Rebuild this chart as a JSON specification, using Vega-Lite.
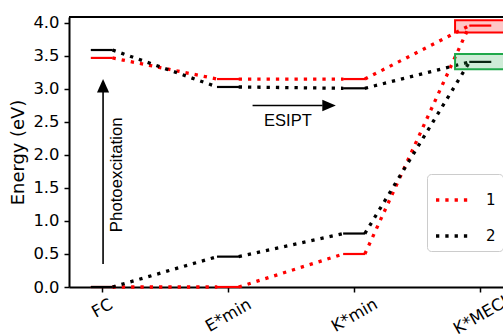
{
  "$schema": "https://vega.github.io/schema/vega-lite/v6.json",
  "width": 434,
  "height": 270,
  "autosize": {"type": "none"},
  "padding": {"left": 69, "top": 17, "right": 0, "bottom": 49},
  "config": {
    "view": {"stroke": null},
    "font": "DejaVu Sans",
    "axis": {
      "grid": false,
      "domainColor": "black",
      "domainWidth": 2,
      "tickColor": "black",
      "tickWidth": 1.5,
      "tickSize": 5,
      "labelColor": "black",
      "labelFont": "DejaVu Sans",
      "labelFontSize": 16.4,
      "labelOverlap": false,
      "titleColor": "black",
      "titleFont": "DejaVu Sans",
      "titleFontWeight": "normal",
      "titleFontSize": 17.9
    }
  },
  "datasets": {
    "links": [
      {"series": "1", "x": 0.085, "y": 3.47, "x2": 0.915, "y2": 3.15},
      {"series": "1", "x": 1.085, "y": 3.15, "x2": 1.915, "y2": 3.15},
      {"series": "1", "x": 2.085, "y": 3.15, "x2": 2.915, "y2": 3.96},
      {"series": "1", "x": 0.085, "y": 0.0, "x2": 0.915, "y2": 0.0},
      {"series": "1", "x": 1.085, "y": 0.0, "x2": 1.915, "y2": 0.5},
      {"series": "1", "x": 2.085, "y": 0.5, "x2": 2.915, "y2": 3.96},
      {"series": "2", "x": 0.085, "y": 3.59, "x2": 0.915, "y2": 3.03},
      {"series": "2", "x": 1.085, "y": 3.03, "x2": 1.915, "y2": 3.01},
      {"series": "2", "x": 2.085, "y": 3.01, "x2": 2.915, "y2": 3.41},
      {"series": "2", "x": 0.085, "y": 0.0, "x2": 0.915, "y2": 0.46},
      {"series": "2", "x": 1.085, "y": 0.46, "x2": 1.915, "y2": 0.81},
      {"series": "2", "x": 2.085, "y": 0.81, "x2": 2.915, "y2": 3.41}
    ],
    "levels": [
      {"series": "1", "x": 0, "y": 3.47},
      {"series": "1", "x": 1, "y": 3.15},
      {"series": "1", "x": 2, "y": 3.15},
      {"series": "1", "x": 3, "y": 3.96},
      {"series": "1", "x": 0, "y": 0.0},
      {"series": "1", "x": 1, "y": 0.0},
      {"series": "1", "x": 2, "y": 0.5},
      {"series": "2", "x": 0, "y": 3.59},
      {"series": "2", "x": 1, "y": 3.03},
      {"series": "2", "x": 2, "y": 3.01},
      {"series": "2", "x": 3, "y": 3.41},
      {"series": "2", "x": 0, "y": 0.0},
      {"series": "2", "x": 1, "y": 0.46},
      {"series": "2", "x": 2, "y": 0.81}
    ],
    "boxes": [
      {"box": "red", "x": 2.8, "x2": 3.4, "y": 3.855, "y2": 4.04},
      {"box": "green", "x": 2.8, "x2": 3.4, "y": 3.3, "y2": 3.53}
    ],
    "shafts": [
      {"x": 0.01, "y": 0.35, "x2": 0.01, "y2": 2.98},
      {"x": 1.195, "y": 2.75, "x2": 1.75, "y2": 2.75}
    ],
    "heads": [
      {"dir": "up", "x": 0.01, "y": 3.15},
      {"dir": "right", "x": 1.855, "y": 2.75}
    ]
  },
  "layer": [
    {
      "data": {"name": "links"},
      "mark": {"type": "rule", "strokeWidth": 3.3, "strokeDash": [3.3, 6], "strokeCap": "butt"},
      "encoding": {
        "x": {
          "field": "x", "type": "quantitative",
          "scale": {"domain": [-0.26, 3.18], "nice": false, "zero": false},
          "axis": {
            "title": null,
            "values": [0, 1, 2, 3],
            "labelExpr": "['FC','E*min','K*min','K*MECI'][datum.value]",
            "labelAngle": -30,
            "labelAlign": "center",
            "labelBaseline": "middle",
            "labelPadding": {"condition": {"test": "datum.value == 0", "value": 16}, "value": 23}
          }
        },
        "x2": {"field": "x2"},
        "y": {
          "field": "y", "type": "quantitative",
          "scale": {"domain": [0, 4.09], "nice": false, "zero": false},
          "axis": {
            "title": "Energy (eV)",
            "values": [0, 0.5, 1, 1.5, 2, 2.5, 3, 3.5, 4],
            "tickCount": 20,
            "format": ".1f",
            "labelOverlap": false,
            "labelSeparation": 0,
            "labelPadding": 5,
            "titlePadding": 5
          }
        },
        "y2": {"field": "y2"},
        "color": {
          "field": "series", "type": "nominal",
          "scale": {"domain": ["1", "2"], "range": ["#ff0000", "#000000"]},
          "legend": {
            "orient": "none",
            "legendX": 358,
            "legendY": 157,
            "title": null,
            "symbolType": "stroke",
            "symbolSize": 1156,
            "symbolStrokeWidth": 3.3,
            "symbolDash": [3.3, 6],
            "labelFontSize": 15,
            "labelFont": "DejaVu Sans",
            "labelColor": "black",
            "labelOffset": 14,
            "rowPadding": 9,
            "padding": 7,
            "strokeColor": "#cccccc",
            "fillColor": "white",
            "cornerRadius": 4
          }
        }
      }
    },
    {
      "data": {"name": "levels"},
      "mark": {"type": "tick", "orient": "horizontal", "size": 22, "thickness": 2.2, "opacity": 1},
      "encoding": {
        "x": {"field": "x", "type": "quantitative"},
        "y": {"field": "y", "type": "quantitative"},
        "color": {"field": "series", "type": "nominal"}
      }
    },
    {
      "data": {"values": [{"edge": 4.09}]},
      "mark": {"type": "rule", "color": "black", "strokeWidth": 2},
      "encoding": {"y": {"field": "edge", "type": "quantitative"}}
    },
    {
      "data": {"name": "shafts"},
      "mark": {"type": "rule", "color": "black", "strokeWidth": 1.6},
      "encoding": {
        "x": {"field": "x", "type": "quantitative"},
        "x2": {"field": "x2"},
        "y": {"field": "y", "type": "quantitative"},
        "y2": {"field": "y2"}
      }
    },
    {
      "data": {"name": "heads"},
      "mark": {"type": "point", "filled": true, "opacity": 1, "color": "black", "size": 729},
      "encoding": {
        "x": {"field": "x", "type": "quantitative"},
        "y": {"field": "y", "type": "quantitative"},
        "shape": {
          "field": "dir", "type": "nominal",
          "scale": {"domain": ["up", "right"], "range": ["M0,0L-0.45,1L0.45,1Z", "M0,0L-1,-0.42L-1,0.42Z"]},
          "legend": null
        }
      }
    },
    {
      "data": {"values": [{"label": "Photoexcitation", "x": 0.118, "y": 1.7}]},
      "mark": {"type": "text", "angle": 270, "font": "Liberation Sans", "fontSize": 16.8, "color": "black", "align": "center", "baseline": "middle"},
      "encoding": {
        "x": {"field": "x", "type": "quantitative"},
        "y": {"field": "y", "type": "quantitative"},
        "text": {"field": "label"}
      }
    },
    {
      "data": {"values": [{"label": "ESIPT", "x": 1.475, "y": 2.52}]},
      "mark": {"type": "text", "font": "Liberation Sans", "fontSize": 16.5, "color": "black", "align": "center", "baseline": "middle"},
      "encoding": {
        "x": {"field": "x", "type": "quantitative"},
        "y": {"field": "y", "type": "quantitative"},
        "text": {"field": "label"}
      }
    },
    {
      "data": {"name": "boxes"},
      "mark": {"type": "rect", "fillOpacity": 0.22, "strokeWidth": 2, "clip": true},
      "encoding": {
        "x": {"field": "x", "type": "quantitative"},
        "x2": {"field": "x2"},
        "y": {"field": "y", "type": "quantitative"},
        "y2": {"field": "y2"},
        "fill": {
          "field": "box", "type": "nominal",
          "scale": {"domain": ["red", "green"], "range": ["#ff0000", "#1fa84a"]},
          "legend": null
        },
        "stroke": {
          "field": "box", "type": "nominal",
          "scale": {"domain": ["red", "green"], "range": ["#ff0000", "#1fa84a"]},
          "legend": null
        }
      }
    }
  ]
}
